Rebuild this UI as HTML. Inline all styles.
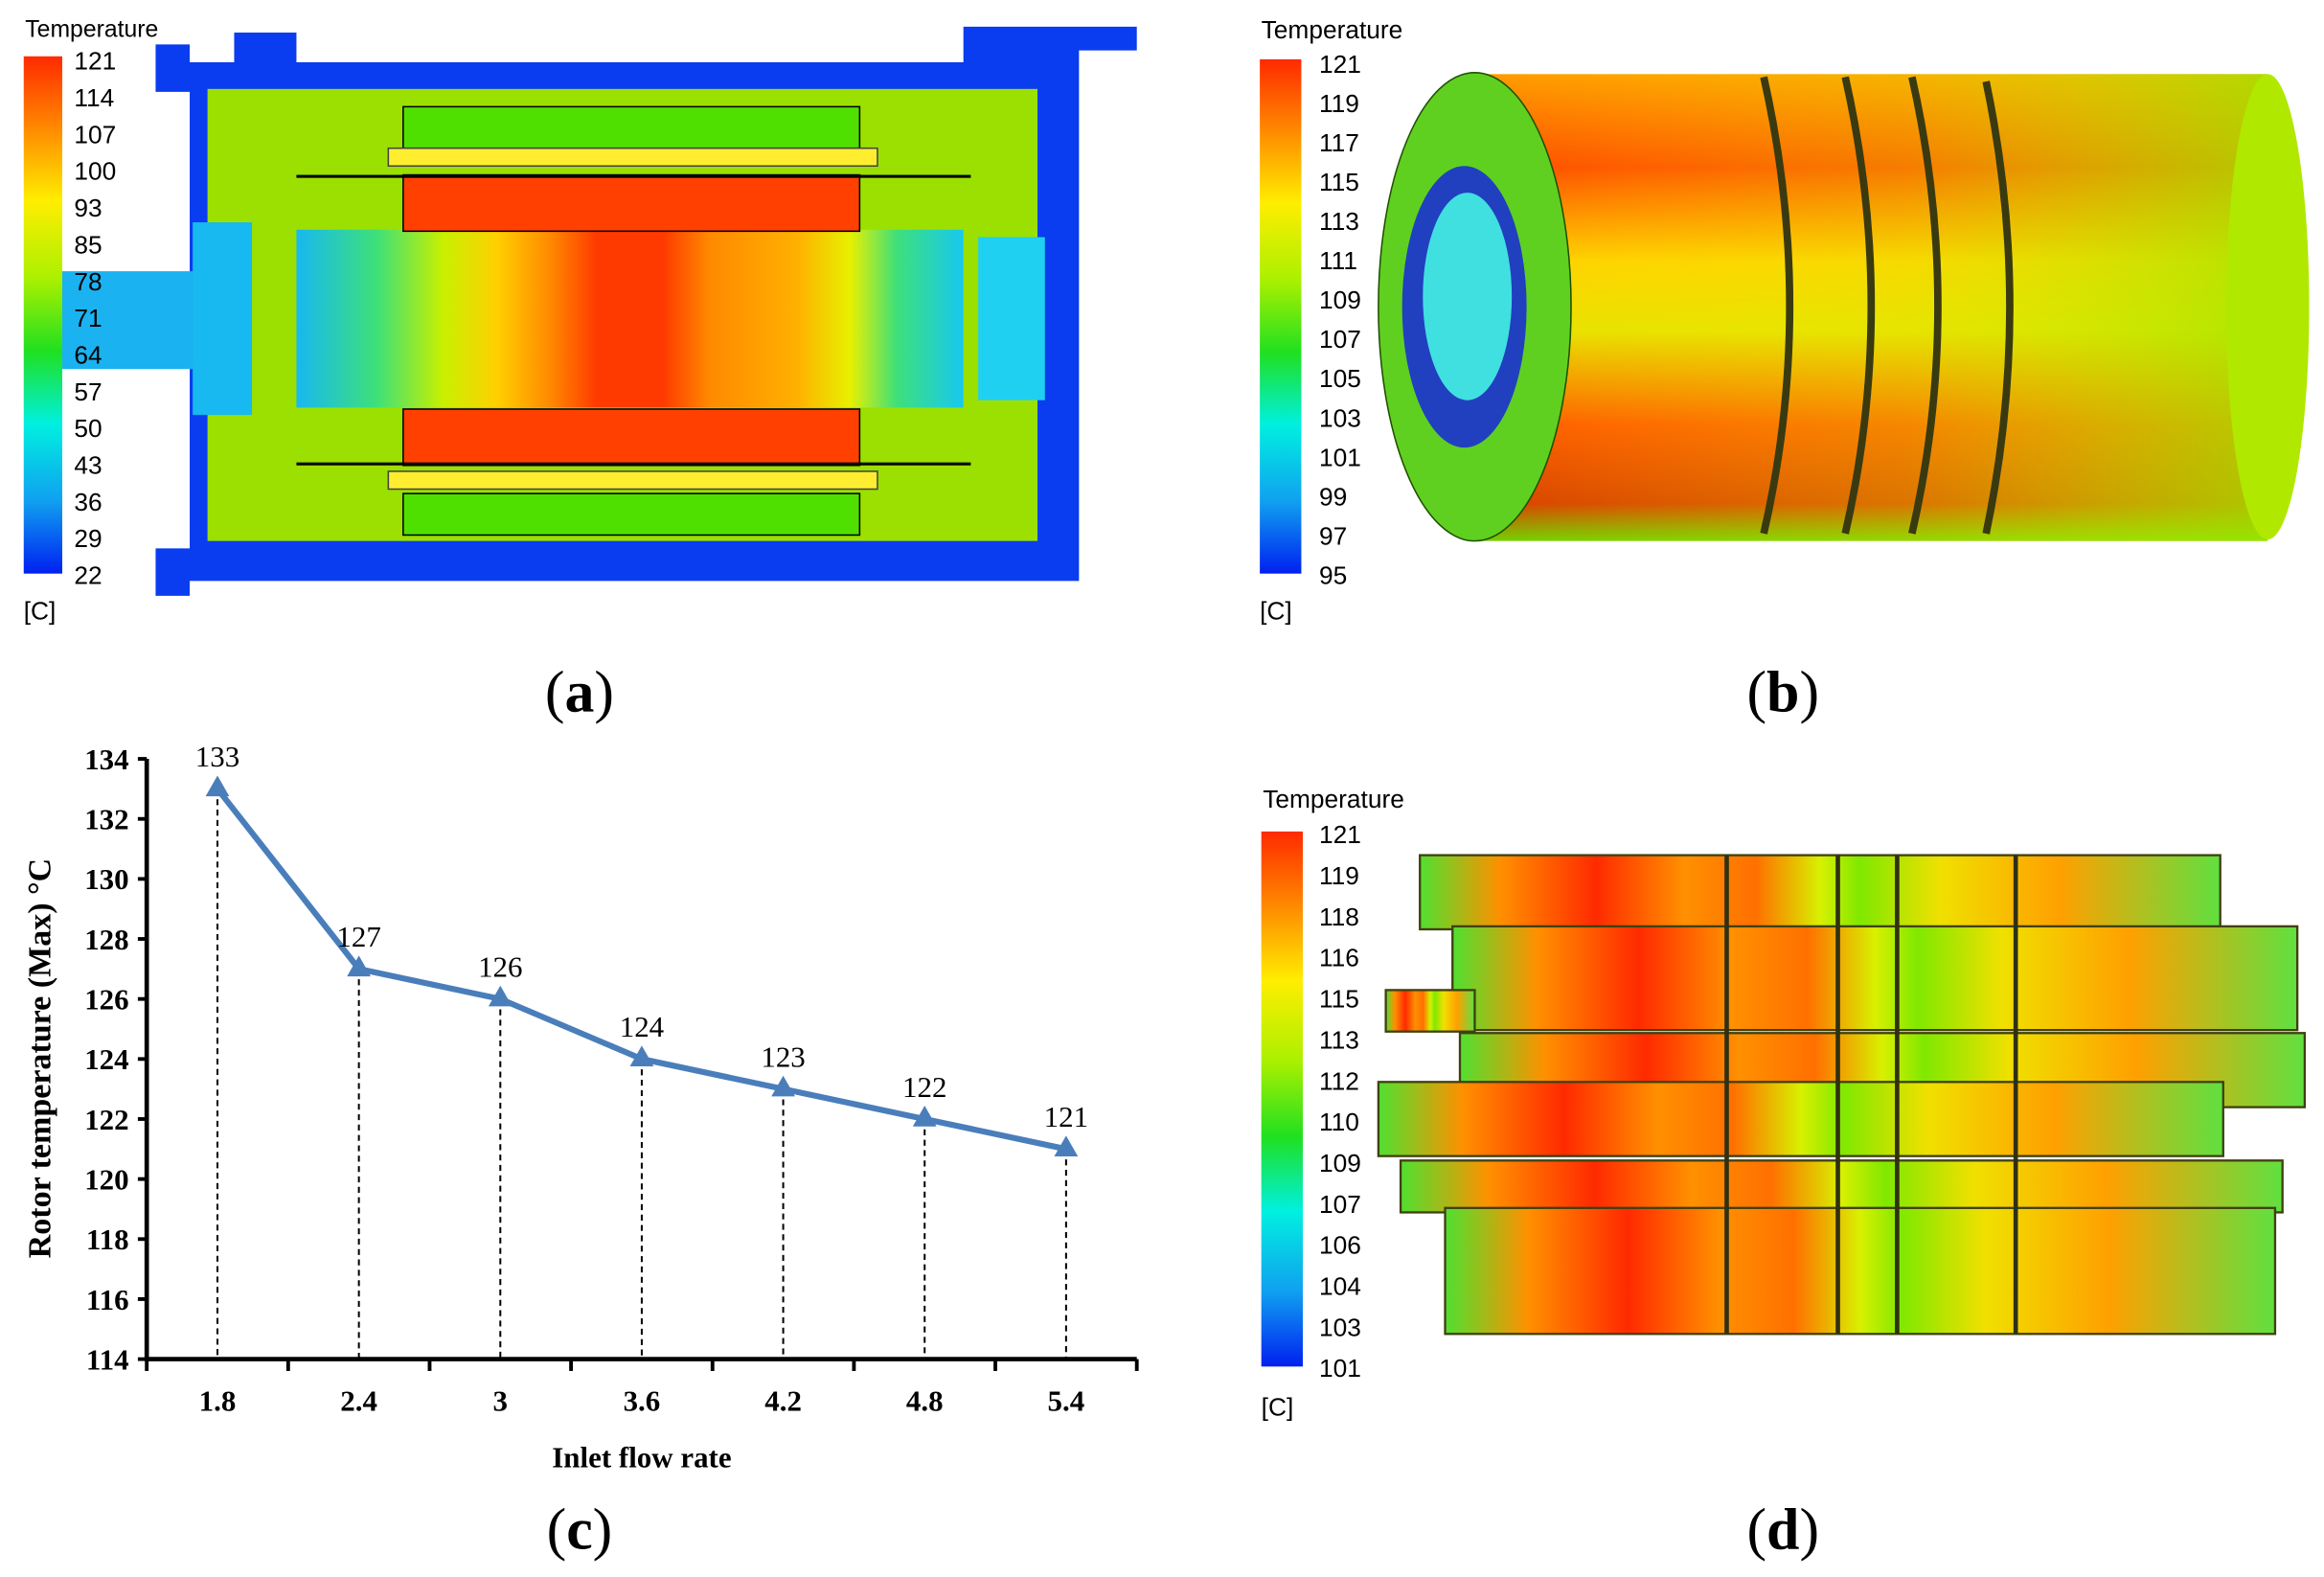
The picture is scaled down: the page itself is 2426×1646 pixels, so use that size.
<!DOCTYPE html>
<html><head><meta charset="utf-8">
<style>
html,body{margin:0;padding:0;background:#fff;}
svg{display:block;}
.sans{font-family:"Liberation Sans",Arial,sans-serif;}
.serif{font-family:"Liberation Serif","Times New Roman",serif;}
</style></head>
<body>
<svg id="fig" width="2426" height="1646" viewBox="0 0 1568 1064" preserveAspectRatio="none" xmlns="http://www.w3.org/2000/svg">
<defs>
<linearGradient id="rotorA" x1="0" x2="1" y1="0" y2="0">
<stop offset="0" stop-color="#17b8f0"/><stop offset="0.12" stop-color="#3ee07a"/><stop offset="0.22" stop-color="#c8f000"/>
<stop offset="0.3" stop-color="#ffd000"/><stop offset="0.38" stop-color="#ff8a00"/><stop offset="0.45" stop-color="#ff3a00"/>
<stop offset="0.55" stop-color="#ff3a00"/><stop offset="0.62" stop-color="#ff8a00"/><stop offset="0.75" stop-color="#ffb000"/>
<stop offset="0.83" stop-color="#e8f000"/><stop offset="0.9" stop-color="#3ee07a"/><stop offset="1" stop-color="#17c8f0"/>
</linearGradient>
<linearGradient id="cylV" x1="0" x2="0" y1="0" y2="1">
<stop offset="0" stop-color="#ff9a00"/><stop offset="0.2" stop-color="#ff4a00"/><stop offset="0.4" stop-color="#ffd000"/>
<stop offset="0.55" stop-color="#e8e000"/><stop offset="0.75" stop-color="#ff5a00"/><stop offset="0.92" stop-color="#d84000"/><stop offset="1" stop-color="#70d000"/>
</linearGradient>
<linearGradient id="cylH" x1="0" x2="1" y1="0" y2="0">
<stop offset="0" stop-color="#ffff00" stop-opacity="0"/><stop offset="0.55" stop-color="#e0f000" stop-opacity="0.3"/><stop offset="1" stop-color="#a0e800" stop-opacity="0.8"/>
</linearGradient>
<linearGradient id="slabH" x1="0" x2="1" y1="0" y2="0">
<stop offset="0" stop-color="#50e030"/><stop offset="0.1" stop-color="#ff9000"/><stop offset="0.22" stop-color="#ff2a00"/>
<stop offset="0.33" stop-color="#ff9000"/><stop offset="0.42" stop-color="#ff7000"/><stop offset="0.5" stop-color="#d8f000"/>
<stop offset="0.55" stop-color="#80e800"/><stop offset="0.65" stop-color="#f0e000"/><stop offset="0.8" stop-color="#ffa000"/><stop offset="1" stop-color="#60e040"/>
</linearGradient>
<linearGradient id="cbA" x1="0" x2="0" y1="0" y2="1">
<stop offset="0" stop-color="#ff2a00"/><stop offset="0.14" stop-color="#ff8a00"/><stop offset="0.28" stop-color="#ffee00"/>
<stop offset="0.43" stop-color="#aaf000"/><stop offset="0.57" stop-color="#20e020"/><stop offset="0.71" stop-color="#00f0e0"/>
<stop offset="0.86" stop-color="#10a0f0"/><stop offset="1" stop-color="#0020f0"/>
</linearGradient>
</defs>

<!-- Panel (a) -->
<g>
<text class="sans" x="17" y="25" font-size="16">Temperature</text>
<rect x="16" y="38" width="26" height="349" fill="url(#cbA)"/>
<text class="sans" x="16" y="418" font-size="17">[C]</text>
<path d="M105 30 H128 V42 H158 V22 H200 V42 H650 V18 H767 V34 H728 V392 H128 V402 H105 V370 H128 V62 H105 Z" fill="#0a3cf0"/>
<rect x="140" y="60" width="560" height="305" fill="#9be000"/>
<rect x="42" y="183" width="110" height="66" fill="#1ab2f0"/>
<rect x="130" y="150" width="40" height="130" fill="#18b8f0"/>
<rect x="660" y="160" width="45" height="110" fill="#20d0f0"/>
<rect x="200" y="155" width="450" height="120" fill="url(#rotorA)"/>
<rect x="272" y="118" width="308" height="38" fill="#ff4000" stroke="#000"/>
<rect x="272" y="276" width="308" height="38" fill="#ff4000" stroke="#000"/>
<rect x="272" y="72" width="308" height="28" fill="#50e000" stroke="#000"/>
<rect x="272" y="333" width="308" height="28" fill="#50e000" stroke="#000"/>
<rect x="262" y="100" width="330" height="12" fill="#ffee30" stroke="#444"/>
<rect x="262" y="318" width="330" height="12" fill="#ffee30" stroke="#444"/>
<rect x="200" y="118" width="455" height="2" fill="#000"/>
<rect x="200" y="312" width="455" height="2" fill="#000"/>
<g id="cbAlabels" class="sans" font-size="17"></g>
</g>
<text class="serif" x="391" y="480" font-size="40" text-anchor="middle">(<tspan font-weight="bold">a</tspan>)</text>

<!-- Panel (b) -->
<g>
<text class="sans" x="851" y="26" font-size="17">Temperature</text>
<rect x="850" y="40" width="28" height="347" fill="url(#cbA)"/>
<g id="cbBlabels" class="sans" font-size="17"></g>
<text class="sans" x="850" y="418" font-size="17">[C]</text>
<rect x="990" y="50" width="540" height="315" fill="url(#cylV)"/>
<rect x="990" y="50" width="540" height="315" fill="url(#cylH)"/>
<ellipse cx="1530" cy="207" rx="28" ry="157" fill="#b0e800"/>
<g stroke="#3a3a10" stroke-width="5" fill="none">
<path d="M1190 52 Q1225 207 1190 360"/><path d="M1245 52 Q1280 207 1245 360"/><path d="M1290 52 Q1325 207 1290 360"/><path d="M1340 55 Q1372 207 1340 360"/>
</g>
<ellipse cx="995" cy="207" rx="65" ry="158" fill="#60d020" stroke="#205000"/>
<ellipse cx="988" cy="207" rx="42" ry="95" fill="#2040c0"/>
<ellipse cx="990" cy="200" rx="30" ry="70" fill="#40e0e0"/>
</g>
<text class="serif" x="1203" y="480" font-size="40" text-anchor="middle">(<tspan font-weight="bold">b</tspan>)</text>

<!-- Panel (d) -->
<g>
<text class="sans" x="852" y="545" font-size="17">Temperature</text>
<rect x="851" y="561" width="28" height="361" fill="url(#cbA)"/>
<g id="cbDlabels" class="sans" font-size="17"></g>
<text class="sans" x="851" y="955" font-size="17">[C]</text>
<g id="slabs"></g>
</g>
<text class="serif" x="1203" y="1045" font-size="40" text-anchor="middle">(<tspan font-weight="bold">d</tspan>)</text>

<!-- Panel (c) chart -->
<g id="chart"></g>
<text class="serif" x="391" y="1045" font-size="40" text-anchor="middle">(<tspan font-weight="bold">c</tspan>)</text>
</svg>

<script>
const categories = ["1.8","2.4","3","3.6","4.2","4.8","5.4"];
const values = [133,127,126,124,123,122,121];
const yTicks = [114,116,118,120,122,124,126,128,130,132,134];
const cbALabels = ["121","114","107","100","93","85","78","71","64","57","50","43","36","29","22"];
const cbBLabels = ["121","119","117","115","113","111","109","107","105","103","101","99","97","95"];
const cbDLabels = ["121","119","118","116","115","113","112","110","109","107","106","104","103","101"];

const NS = "http://www.w3.org/2000/svg";
function mk(tag, attrs, parent){const e=document.createElementNS(NS,tag);for(const k in attrs)e.setAttribute(k,attrs[k]);parent.appendChild(e);return e;}

function cbLabels(id, arr, x, y0, y1){
  const g=document.getElementById(id);
  arr.forEach((t,i)=>{
    const y=y0+(y1-y0)*i/(arr.length-1);
    const e=mk('text',{x:x,y:y+6},g);
    
    
    e.textContent=t;
  });
}
cbLabels('cbAlabels',cbALabels,50,41,388);
cbLabels('cbBlabels',cbBLabels,890,43,388);
cbLabels('cbDlabels',cbDLabels,890,563,923);

const sg=document.getElementById('slabs');
[[958,577,540,50],[980,625,570,70],[935,668,60,28],[985,697,570,50],[930,730,570,50],[945,783,595,35],[975,815,560,85]].forEach(r=>{
  const e=mk('rect',{x:r[0],y:r[1],width:r[2],height:r[3],fill:'url(#slabH)',stroke:'#404010','stroke-width':1.5},sg);
  
  
});
[1165,1240,1280,1360].forEach(x=>mk('line',{x1:x,y1:577,x2:x,y2:900,stroke:'#303010','stroke-width':3},sg));

const C=document.getElementById('chart');
const L=99,R=767,B=917,T=512,ymin=114,ymax=134;
const bw=(R-L)/categories.length;
const xs=i=>L+bw*(i+0.5);
const ys=v=>B-(v-ymin)/(ymax-ymin)*(B-T);

yTicks.forEach(v=>{
  mk('line',{x1:L-6,y1:ys(v),x2:L,y2:ys(v),stroke:'#000','stroke-width':2.5},C);
  const t=mk('text',{x:L-12,y:ys(v)+7,'text-anchor':'end','font-size':20,'font-weight':'bold',class:'serif'},C);
  
  
  t.textContent=v;
});
for(let i=0;i<=categories.length;i++){
  mk('line',{x1:L+bw*i,y1:B,x2:L+bw*i,y2:B+8,stroke:'#000','stroke-width':2.5},C);
}
categories.forEach((c,i)=>{
  const t=mk('text',{x:xs(i),y:952,'text-anchor':'middle','font-size':20,'font-weight':'bold',class:'serif'},C);
  
  
  t.textContent=c;
  mk('line',{x1:xs(i),y1:ys(values[i]),x2:xs(i),y2:B,stroke:'#000','stroke-width':1.3,'stroke-dasharray':'4,3'},C);
});
const ax=mk('path',{d:`M${L} ${T} V${B} H${R}`,fill:'none',stroke:'#000','stroke-width':3},C);


const line=mk('polyline',{points:values.map((v,i)=>xs(i)+','+ys(v)).join(' '),fill:'none',stroke:'#4a7ebb','stroke-width':4,'stroke-linejoin':'round'},C);


values.forEach((v,i)=>{
  const x=xs(i),y=ys(v);
  const m=mk('polygon',{points:`${x},${y-9} ${x-8},${y+5} ${x+8},${y+5}`,fill:'#4a7ebb'},C);
  
  
  const t=mk('text',{x:x,y:y-15,'text-anchor':'middle','font-size':20,class:'serif'},C);
  
  
  t.textContent=v;
});
const xt=mk('text',{x:433,y:990,'text-anchor':'middle','font-size':20,'font-weight':'bold',class:'serif'},C);


xt.textContent='Inlet flow rate';
const yt=mk('text',{x:0,y:0,'text-anchor':'middle','font-size':22,'font-weight':'bold',class:'serif',transform:'translate(34,714) rotate(-90)'},C);


yt.textContent='Rotor temperature (Max)  °C';
</script>
</body></html>
